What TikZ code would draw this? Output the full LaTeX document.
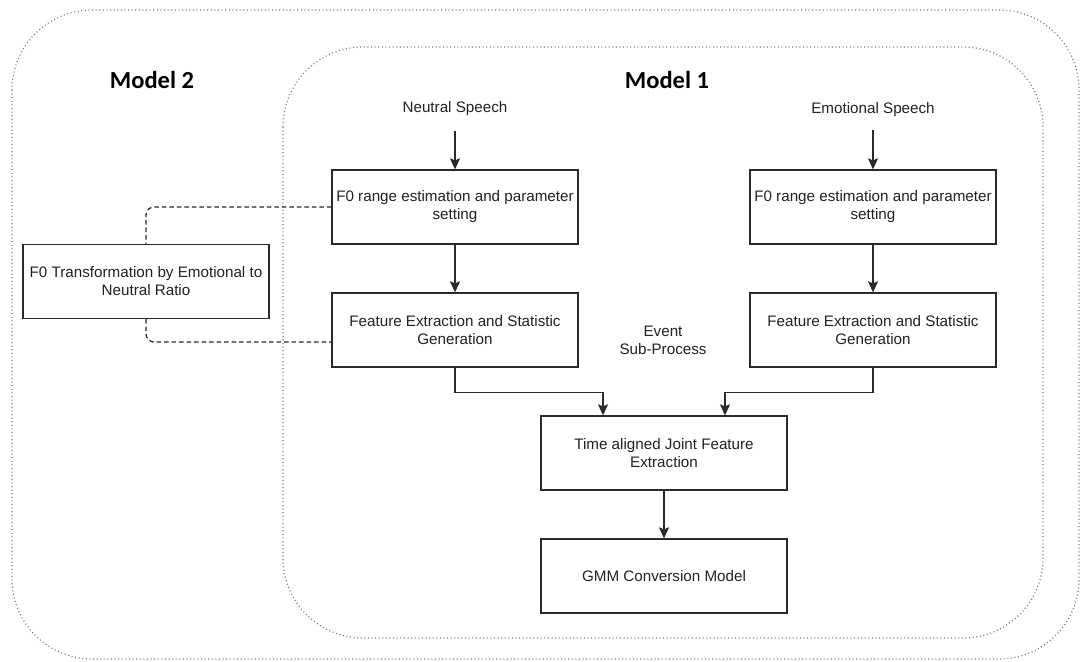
\documentclass[tikz,border=0pt]{standalone}
\usepackage{fontspec}
\setmainfont{Liberation Sans}
\newfontfamily\titlefont{Carlito}
\usetikzlibrary{arrows.meta,calc}
\definecolor{ink}{HTML}{222222}
\definecolor{edge}{HTML}{2A2A2A}
\definecolor{dotc}{HTML}{777777}
\tikzset{
  box/.style={draw=edge, line width=1.3pt, minimum width=246pt, minimum height=74pt,
    inner sep=0pt, align=center, text=ink, font=\fontsize{15.2}{18}\selectfont},
  plain/.style={text=ink, align=center, font=\fontsize{15.2}{18}\selectfont},
  title/.style={text=black, font=\titlefont\bfseries\fontsize{24.5}{28}\selectfont},
  arr/.style={draw=edge, line width=1.3pt, -{Stealth[length=11pt,width=10pt,inset=2pt]}},
  dashconn/.style={draw=edge, line width=1.3pt, dash pattern=on 4.5pt off 3pt, rounded corners=8pt},
  container/.style={draw=dotc, line width=1.2pt, dash pattern=on 1pt off 2.6pt, rounded corners=80pt},
}
\begin{document}
\begin{tikzpicture}[x=1pt,y=-1pt]
\useasboundingbox (0,0) rectangle (1081,661);
\fill[white] (0,0) rectangle (1081,661);
% containers
\draw[container] (12,10) rectangle (1079,659);
\draw[container] (283,47) rectangle (1043,638);
\node[title] (m2) at (152,80) {Model 2};
\node[title] (m1) at (667,80) {Model 1};
% inputs
\node[plain] (ns) at (455,109) {Neutral Speech};
\node[plain] (es) at (873,110) {Emotional Speech};
% boxes
\node[box] (n1) at (455,207) {F0 range estimation and parameter\\setting};
\node[box] (n2) at (455,330) {Feature Extraction and Statistic\\Generation};
\node[box] (e1) at (873,207) {F0 range estimation and parameter\\setting};
\node[box] (e2) at (873,330) {Feature Extraction and Statistic\\Generation};
\node[box] (t) at (664,453) {Time aligned Joint Feature\\Extraction};
\node[box] (g) at (664,576) {GMM Conversion Model};
\node[box] (f) at (146,281.5) {F0 Transformation by Emotional to\\Neutral Ratio};
\node[plain] (ev) at (663,340) {Event\\Sub-Process};
% arrows
\coordinate (nsa) at ([yshift=-11pt]ns.south);
\coordinate (esa) at ([yshift=-9pt]es.south);
\draw[arr] (nsa) -- (n1.north);
\draw[arr] (esa) -- (e1.north);
\draw[arr] (n1) -- (n2);
\draw[arr] (e1) -- (e2);
\draw[arr] (n2.south) -- ++(0,25) -| ([xshift=-61pt]t.north);
\draw[arr] (e2.south) -- ++(0,25) -| ([xshift=61pt]t.north);
\draw[arr] (t) -- (g);
% dashed
\coordinate (n2d) at ([yshift=-12pt]n2.west);
\draw[dashconn] (n1.west) -| (f.north);
\draw[dashconn] (f.south) |- (n2d);
\end{tikzpicture}
\end{document}
